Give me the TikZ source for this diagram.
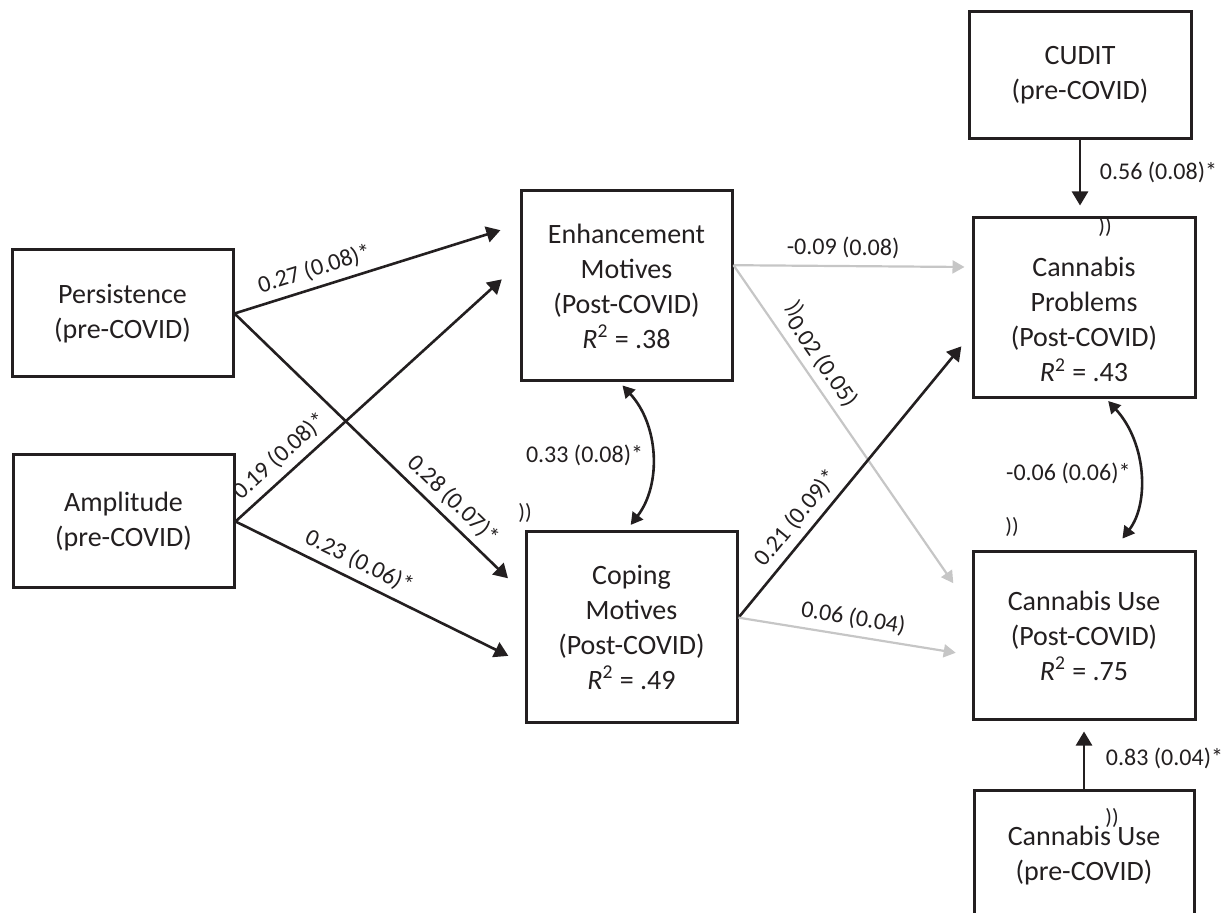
\documentclass[tikz,border=0pt]{standalone}
\usepackage{fontspec}
\setmainfont{Carlito}
\usetikzlibrary{arrows.meta}

\definecolor{inkblack}{RGB}{35,31,32}
\definecolor{pathgray}{RGB}{198,198,198}

\tikzset{
  box/.style={draw=inkblack, line width=1.5pt, align=center, inner sep=0pt,
    text=inkblack, font=\fontsize{14}{17.5}\selectfont},
  sig/.style={draw=inkblack, line width=1.3pt, -{Triangle[length=7pt,width=8pt]}},
  nonsig/.style={draw=pathgray, line width=1.1pt, -{Triangle[length=6pt,width=6.5pt]}},
  cov/.style={draw=inkblack, line width=1.3pt,
    {Triangle[length=6pt,width=6.5pt]}-{Triangle[length=6pt,width=6.5pt]}},
  est/.style={text=inkblack, font=\fontsize{12}{14}\selectfont},
  stray/.style={text=inkblack, font=\fontsize{11}{13}\selectfont, inner sep=0pt},
}

\begin{document}
\begin{tikzpicture}[x=0.5pt, y=-0.5pt]
  \useasboundingbox (0,0) rectangle (1225,913);

  % pre-COVID predictors
  \node[box, minimum width=110.5pt, minimum height=63.5pt] (pers) at (122.5,313.5) {Persistence\\(pre-COVID)};
  \node[box, minimum width=110.5pt, minimum height=66.5pt] (amp) at (123.5,521.5) {Amplitude\\(pre-COVID)};

  % motives
  \node[box, minimum width=105.5pt, minimum height=95pt] (enh) at (626.5,286) {Enhancement\\Motives\\(Post-COVID)\\\textit{R}\textsuperscript{2} = .38};
  \node[box, minimum width=105.5pt, minimum height=95pt] (cop) at (631.5,627) {Coping\\Motives\\(Post-COVID)\\\textit{R}\textsuperscript{2} = .49};

  % outcomes and their controls
  \node[box, minimum width=111pt, minimum height=63.5pt] (cudit) at (1080,75.5) {CUDIT\\(pre-COVID)};
  \node[box, minimum width=111pt, minimum height=90pt] (prob) at (1084,308) {\rule{0pt}{21.5pt}Cannabis\\Problems\\(Post-COVID)\\\textit{R}\textsuperscript{2} = .43};
  \node[box, minimum width=111pt, minimum height=83.5pt] (use) at (1084,635.5) {Cannabis Use\\(Post-COVID)\\\textit{R}\textsuperscript{2} = .75};
  \node[box, minimum width=110pt, minimum height=66pt] (pre) at (1084,856) {Cannabis Use\\(pre-COVID)};

  % paths into the motives
  \draw[sig, shorten >=10pt] (pers.east) -- node[est, sloped, above, pos=0.30] {0.27 (0.08)*} (enh.150);
  \draw[sig, shorten >=11.5pt] (pers.east) -- node[est, sloped, above, pos=0.71] {0.28 (0.07)*} (cop.163);
  \draw[sig, shorten >=12pt] (amp.east) -- node[est, sloped, above, pos=0.20] {0.19 (0.08)*} (enh.168);
  \draw[sig, shorten >=9pt] (amp.east) -- node[est, sloped, above, pos=0.40] {0.23 (0.06)*} (cop.199);

  % paths into the outcomes
  \draw[nonsig, shorten >=3.5pt] (enh.11) -- node[est, sloped, above, pos=0.46] {-0.09 (0.08)} (prob.160);
  \draw[nonsig, shorten >=16pt] (enh.11) -- node[est, sloped, above, pos=0.31] {0.02 (0.05)} (use.167);
  \draw[sig, shorten >=8pt] (cop.5) -- node[est, sloped, above, pos=0.31] {0.21 (0.09)*} (prob.193);
  \draw[nonsig, shorten >=8pt] (cop.5) -- node[est, sloped, above, pos=0.48] {0.06 (0.04)} (use.190);

  \draw[sig, shorten >=5.5pt] (cudit.south) -- node[est, right=6pt, pos=0.42] {0.56 (0.08)*} (cudit.south |- prob.north);
  \draw[sig, shorten >=5.5pt] (pre.north) -- node[est, right=7pt, pos=0.45] {0.83 (0.04)*} (pre.north |- use.south);

  % covariances
  \draw[cov, shorten <=2pt, shorten >=3.5pt] (enh.266) to[bend left=40] node[est, left] {0.33 (0.08)*} (cop.93);
  \draw[cov, shorten <=1pt, shorten >=7.5pt] (prob.284) to[bend left=40] node[est, left] {-0.06 (0.06)*} (use.71);

  % stray marks
  \node[stray] (strayA) at (525,513) {))};
  \node[stray] (strayB) at (1105,227) {))};
  \node[stray, rotate=-55] (strayC) at (795,309) {))};
  \node[stray] (strayD) at (1012,527) {))};
  \node[stray] (strayE) at (1112,818) {))};
\end{tikzpicture}
\end{document}
